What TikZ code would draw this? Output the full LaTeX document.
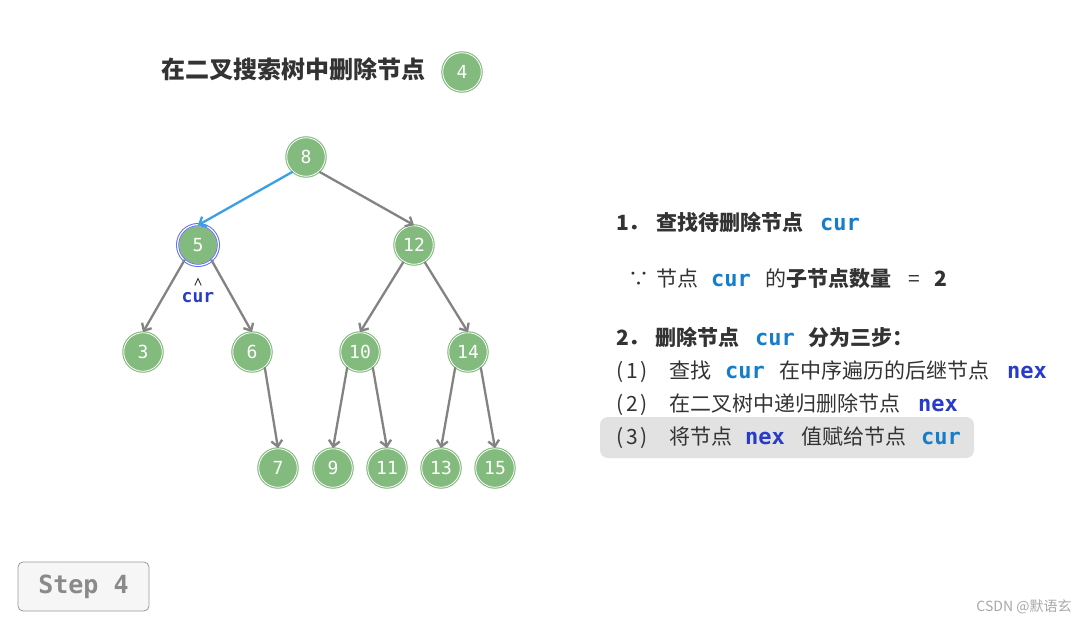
\documentclass[tikz,border=0pt]{standalone}
\usepackage{fontspec}
\setmainfont{Noto Sans CJK SC}
\setmonofont{DejaVu Sans Mono}
\usetikzlibrary{arrows.meta}
\definecolor{ngreen}{RGB}{131,186,126}
\definecolor{egray}{RGB}{131,131,131}
\definecolor{eblue}{RGB}{57,160,230}
\definecolor{ringblue}{RGB}{98,112,235}
\definecolor{curblue}{RGB}{22,125,200}
\definecolor{nexblue}{RGB}{40,60,200}
\definecolor{tdark}{RGB}{51,51,51}
\definecolor{stepgray}{RGB}{138,138,138}
\definecolor{stepfill}{RGB}{246,246,246}
\definecolor{stepborder}{RGB}{154,154,154}
\definecolor{hlfill}{RGB}{226,226,226}
\definecolor{wmgray}{RGB}{168,168,168}
\begin{document}
\begin{tikzpicture}[x=1pt,y=-1pt,
  tnode/.style={circle, minimum size=38.5pt, inner sep=0pt, fill=ngreen, draw=ngreen,
    line width=1.1pt, double=white, double distance=0.8pt, text=white,
    font=\ttfamily\fontsize{18}{18}\selectfont},
  tedge/.style={-{Straight Barb[length=6pt,width=11pt]}, line width=2.3pt, draw=egray},
  bedge/.style={tedge, draw=eblue},
  txt/.style={anchor=base west, inner sep=0pt, text=tdark, font=\fontsize{21}{21}\selectfont},
  btxt/.style={txt, font=\fontsize{21}{21}\selectfont\bfseries},
  curtxt/.style={txt, text=curblue, font=\ttfamily\bfseries\fontsize{22}{22}\selectfont},
  nextxt/.style={txt, text=nexblue, font=\ttfamily\bfseries\fontsize{22}{22}\selectfont}
]
\useasboundingbox (0,0) rectangle (1091,623);
\fill[white] (0,0) rectangle (1091,623);

% title
\node[anchor=base west, inner sep=0pt, text=tdark, font=\fontsize{24}{24}\selectfont\bfseries] (title) at (161,79) {在二叉搜索树中删除节点};
\node[tnode] (t4) at (462,72) {4};

% tree nodes
\node[tnode] (n8) at (306,157) {8};
\node[tnode] (n5) at (198,245) {5};
\node[tnode] (n12) at (414,245) {12};
\node[tnode] (n3) at (143,352) {3};
\node[tnode] (n6) at (252,352) {6};
\node[tnode] (n10) at (360,352) {10};
\node[tnode] (n14) at (468,352) {14};
\node[tnode] (n7) at (278,468) {7};
\node[tnode] (n9) at (333,468) {9};
\node[tnode] (n11) at (387,468) {11};
\node[tnode] (n13) at (441,468) {13};
\node[tnode] (n15) at (495,468) {15};

% highlight ring on node 5
\draw[ringblue, line width=1pt, double=white, double distance=1.2pt] (n5.center) circle (20.4pt);

% edges
\draw[bedge] (n8.-132) -- (n5.north);
\draw[tedge] (n8.-48) -- (n12.north);
\draw[tedge] (n5.-132) -- (n3.north);
\draw[tedge] (n5.-48) -- (n6.north);
\draw[tedge] (n12.-122) -- (n10.north);
\draw[tedge] (n12.-58) -- (n14.north);
\draw[tedge] (n6.-50) -- (n7.north);
\draw[tedge] (n10.-130) -- (n9.north);
\draw[tedge] (n10.-50) -- (n11.north);
\draw[tedge] (n14.-130) -- (n13.north);
\draw[tedge] (n14.-50) -- (n15.north);

% cur pointer
\node[inner sep=0pt, text=nexblue, font=\ttfamily\bfseries\fontsize{18}{18}\selectfont] (curl) at (198,298) {cur};
\draw[tdark, line width=0.9pt] (194.8,285.5) -- (198,278.5) -- (201.2,285.5);

% right text
\fill[hlfill, rounded corners=8pt] (600,417) rectangle (974,458);

\node[btxt] (a1) at (616,230) {1．};
\node[btxt] (a2) at (656,230) {查找待删除节点};
\node[curtxt] (a3) at (820,230) {cur};

\node[txt] (b1) at (628,286) {∵};
\node[txt] (b2) at (656,286) {节点};
\node[curtxt] (b3) at (711,286) {cur};
\node[txt] (b4) at (765,286) {的\textbf{子节点数量}};
\node[txt] (b5) at (908,286) {=};
\node[btxt] (b6) at (934,286) {2};

\node[btxt] (c1) at (616,345) {2．};
\node[btxt] (c2) at (655,345) {删除节点};
\node[curtxt] (c3) at (755,345) {cur};
\node[btxt] (c4) at (808,345) {分为三步：};

\node[txt] (d1) at (616,378) {(\hspace{3pt}1\hspace{3pt})};
\node[txt] (d2) at (669,378) {查找};
\node[curtxt] (d3) at (725,378) {cur};
\node[txt] (d4) at (779,378) {在中序遍历的后继节点};
\node[nextxt] (d5) at (1007,378) {nex};

\node[txt] (e1) at (616,411) {(\hspace{3pt}2\hspace{3pt})};
\node[txt] (e2) at (669,411) {在二叉树中递归删除节点};
\node[nextxt] (e3) at (918,411) {nex};

\node[txt] (f1) at (616,444) {(\hspace{3pt}3\hspace{3pt})};
\node[txt] (f2) at (669,444) {将节点};
\node[nextxt] (f3) at (745,444) {nex};
\node[txt] (f4) at (801,444) {值赋给节点};
\node[curtxt] (f5) at (921,444) {cur};

% step box
\node[draw=stepborder, fill=stepfill, line width=0.8pt, rounded corners=5pt, minimum width=131pt, minimum height=49pt, inner sep=0pt, text=stepgray, font=\ttfamily\bfseries\fontsize{25}{25}\selectfont] (step) at (83.5,586.5) {Step 4};

% watermark
\node[inner sep=0pt, text=wmgray, font=\fontsize{14}{14}\selectfont] (wm) at (1024,607) {CSDN @默语玄};
\end{tikzpicture}
\end{document}
